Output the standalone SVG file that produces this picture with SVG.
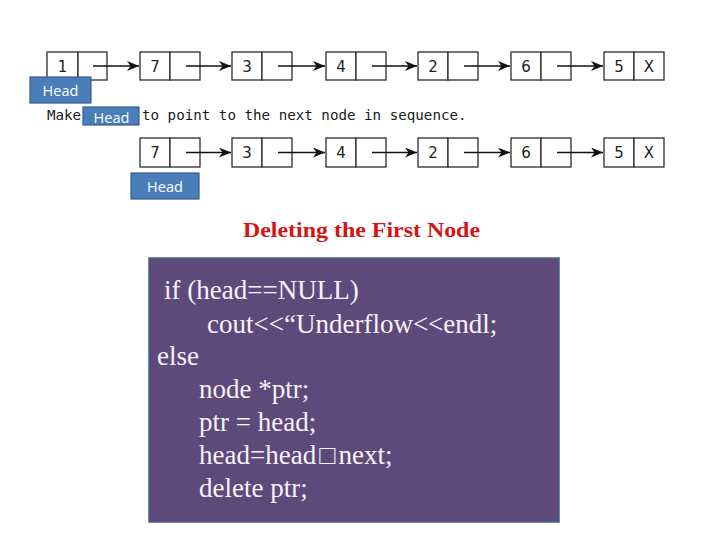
<svg xmlns="http://www.w3.org/2000/svg" width="720" height="540" viewBox="0 0 720 540">
<style>
.cell{fill:#ffffff;stroke:#2b2b2b;stroke-width:1.3}
.num{font-family:"DejaVu Sans",Verdana,sans-serif;font-size:15px;fill:#222;text-anchor:middle}
.link{stroke:#111;stroke-width:1.3;fill:none;marker-end:url(#arr)}
.headbox{fill:#4a7ebb;stroke:#385d8a;stroke-width:1.2}
.headtxt{font-family:"Open Sans","Liberation Sans",sans-serif;font-size:14.5px;fill:#ffffff;text-anchor:middle}
.mono{font-family:"DejaVu Sans Mono","Liberation Mono",monospace;font-size:14.2px;fill:#1a1a1a}
.title{font-family:"Liberation Serif","Times New Roman",serif;font-weight:bold;font-size:20px;fill:#d41515;text-anchor:middle}
.code{font-family:"Liberation Serif","Times New Roman",serif;font-size:27px;fill:#f6f3fa}
</style>
<defs>
<marker id="arr" markerWidth="14" markerHeight="11" refX="12" refY="5" orient="auto" markerUnits="userSpaceOnUse">
<path d="M0,0 L12,5 L0,10 L3.5,5 z" fill="#111"/>
</marker>
</defs>
<rect width="720" height="540" fill="#ffffff"/>

<!-- Row 1 -->
<g id="r1n1"><rect class="cell" x="47" y="52" width="31" height="28"/><rect class="cell" x="78" y="52" width="29" height="28"/><text class="num" x="62.5" y="71.5">1</text></g>
<g id="r1n7"><rect class="cell" x="140" y="52" width="30" height="28"/><rect class="cell" x="170" y="52" width="30" height="28"/><text class="num" x="155" y="71.5">7</text></g>
<g id="r1n3"><rect class="cell" x="232" y="52" width="30" height="28"/><rect class="cell" x="262" y="52" width="30" height="28"/><text class="num" x="247" y="71.5">3</text></g>
<g id="r1n4"><rect class="cell" x="326" y="52" width="30" height="28"/><rect class="cell" x="356" y="52" width="30" height="28"/><text class="num" x="341" y="71.5">4</text></g>
<g id="r1n2"><rect class="cell" x="418" y="52" width="30" height="28"/><rect class="cell" x="448" y="52" width="30" height="28"/><text class="num" x="433" y="71.5">2</text></g>
<g id="r1n6"><rect class="cell" x="511" y="52" width="30" height="28"/><rect class="cell" x="541" y="52" width="30" height="28"/><text class="num" x="526" y="71.5">6</text></g>
<g id="r1n5"><rect class="cell" x="604" y="52" width="30" height="28"/><rect class="cell" x="634" y="52" width="30" height="28"/><text class="num" x="619" y="71.5">5</text><text class="num" x="649" y="71.5">X</text></g>

<!-- Row 2 -->
<g id="r2n7"><rect class="cell" x="140" y="138" width="30" height="29"/><rect class="cell" x="170" y="138" width="30" height="29"/><text class="num" x="155" y="158">7</text></g>
<g id="r2n3"><rect class="cell" x="232" y="138" width="30" height="29"/><rect class="cell" x="262" y="138" width="30" height="29"/><text class="num" x="247" y="158">3</text></g>
<g id="r2n4"><rect class="cell" x="326" y="138" width="30" height="29"/><rect class="cell" x="356" y="138" width="30" height="29"/><text class="num" x="341" y="158">4</text></g>
<g id="r2n2"><rect class="cell" x="418" y="138" width="30" height="29"/><rect class="cell" x="448" y="138" width="30" height="29"/><text class="num" x="433" y="158">2</text></g>
<g id="r2n6"><rect class="cell" x="511" y="138" width="30" height="29"/><rect class="cell" x="541" y="138" width="30" height="29"/><text class="num" x="526" y="158">6</text></g>
<g id="r2n5"><rect class="cell" x="604" y="138" width="30" height="29"/><rect class="cell" x="634" y="138" width="30" height="29"/><text class="num" x="619" y="158">5</text><text class="num" x="649" y="158">X</text></g>

<g id="connectors">
<line class="link" x1="93" y1="66" x2="139" y2="66"/>
<line class="link" x1="186" y1="66" x2="231" y2="66"/>
<line class="link" x1="278" y1="66" x2="325" y2="66"/>
<line class="link" x1="372" y1="66" x2="417" y2="66"/>
<line class="link" x1="464" y1="66" x2="510" y2="66"/>
<line class="link" x1="557" y1="66" x2="603" y2="66"/>
<line class="link" x1="186" y1="152.5" x2="231" y2="152.5"/>
<line class="link" x1="278" y1="152.5" x2="325" y2="152.5"/>
<line class="link" x1="372" y1="152.5" x2="417" y2="152.5"/>
<line class="link" x1="464" y1="152.5" x2="510" y2="152.5"/>
<line class="link" x1="557" y1="152.5" x2="603" y2="152.5"/>
</g>

<g id="head1"><rect class="headbox" x="30" y="77" width="61" height="26"/><text class="headtxt" x="60.5" y="95.5">Head</text></g>

<text class="mono" x="47" y="120">Make</text>
<text class="mono" x="142" y="120">to point to the next node in sequence.</text>
<g id="head2"><rect class="headbox" x="83" y="107" width="56" height="18"/><text class="headtxt" x="111.5" y="123">Head</text></g>

<g id="head3"><rect class="headbox" x="131" y="173" width="68" height="26"/><text class="headtxt" x="165" y="191.5">Head</text></g>

<text class="title" x="361.5" y="237" textLength="237" lengthAdjust="spacingAndGlyphs">Deleting the First Node</text>

<g id="codebox">
<rect x="149" y="258" width="410" height="264" fill="#5e4a7a" stroke="#41638c" stroke-width="1.5"/>
<text class="code" x="164" y="299">if (head==NULL)</text>
<text class="code" x="207" y="333">cout&lt;&lt;“Underflow&lt;&lt;endl;</text>
<text class="code" x="157" y="365">else</text>
<text class="code" x="199" y="398">node *ptr;</text>
<text class="code" x="199" y="431">ptr = head;</text>
<text class="code" x="199" y="464">head=head<tspan dx="3">□</tspan><tspan dx="3">next;</tspan></text>
<text class="code" x="199" y="497">delete ptr;</text>
</g>
</svg>
